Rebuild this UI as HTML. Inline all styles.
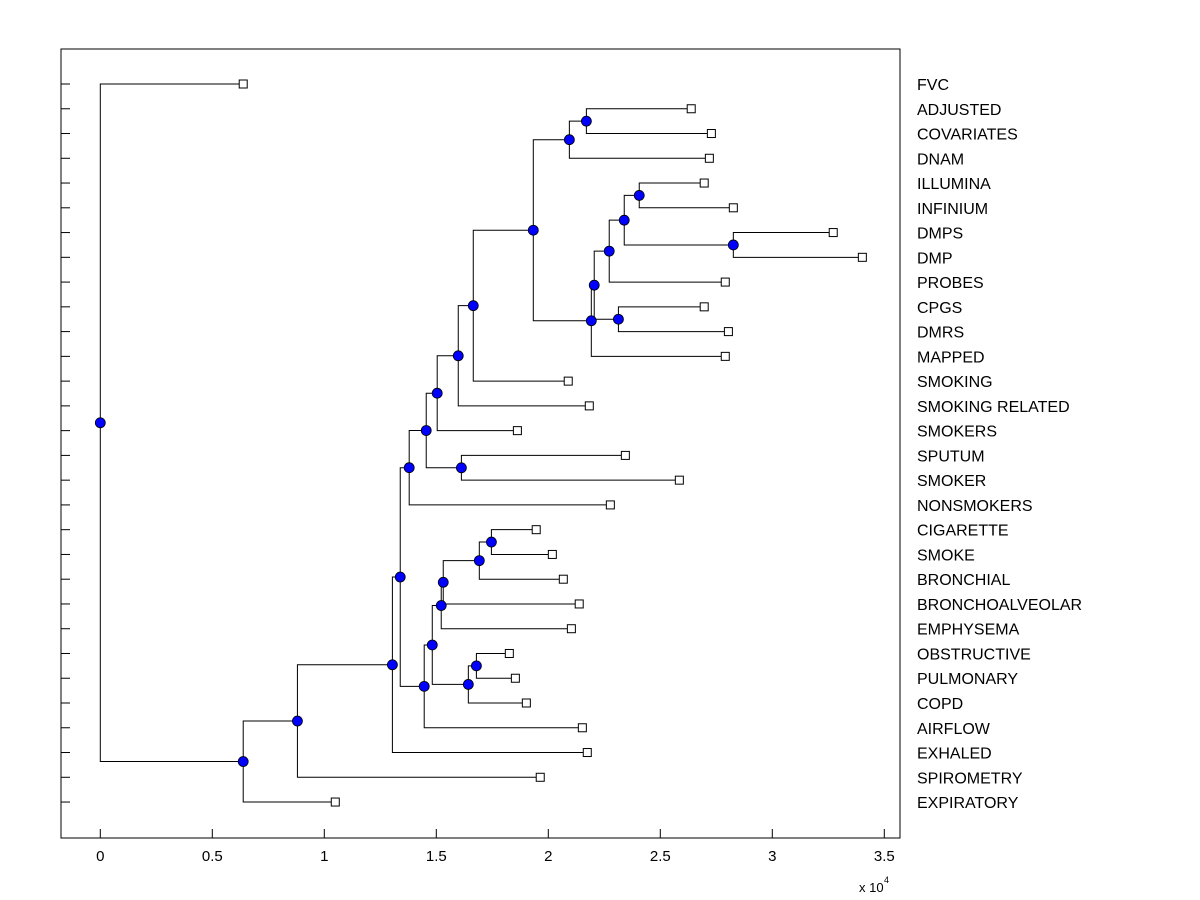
<!DOCTYPE html>
<html><head><meta charset="utf-8"><style>
html,body{margin:0;padding:0;background:#fff;}
svg{display:block;font-family:"Liberation Sans",Arial,sans-serif;}
</style></head><body>
<svg id="chart" width="1200" height="900" viewBox="0 0 1200 900">
<rect x="0" y="0" width="1200" height="900" fill="#fff"/>
<g id="marks"></g>
<g id="axes"></g>
</svg>
<script>
const leafLabels = ["FVC","ADJUSTED","COVARIATES","DNAM","ILLUMINA","INFINIUM","DMPS","DMP","PROBES","CPGS","DMRS","MAPPED","SMOKING","SMOKING RELATED","SMOKERS","SPUTUM","SMOKER","NONSMOKERS","CIGARETTE","SMOKE","BRONCHIAL","BRONCHOALVEOLAR","EMPHYSEMA","OBSTRUCTIVE","PULMONARY","COPD","AIRFLOW","EXHALED","SPIROMETRY","EXPIRATORY"];
const leafHeights = [0.638,2.638,2.728,2.719,2.696,2.826,3.272,3.402,2.79,2.696,2.804,2.79,2.089,2.183,1.862,2.344,2.585,2.277,1.946,2.018,2.067,2.138,2.103,1.826,1.853,1.902,2.152,2.174,1.964,1.049];
const mergeNames = ["O","M","T","U","S","R","Q","P","N","L","K","J","H","I","G","E","AA","Z","Y","W","AB","X","V","F","D","C","B","A","ROOT"];
const mergeLeft  = ["ADJUSTED","O","ILLUMINA","DMPS","T","S","CPGS","R","P","M","L","K","J","SPUTUM","H","G","CIGARETTE","AA","Z","Y","OBSTRUCTIVE","AB","W","V","E","D","C","B","FVC"];
const mergeRight = ["COVARIATES","DNAM","INFINIUM","DMP","U","PROBES","DMRS","Q","MAPPED","N","SMOKING","SMOKING RELATED","SMOKERS","SMOKER","I","NONSMOKERS","SMOKE","BRONCHIAL","BRONCHOALVEOLAR","EMPHYSEMA","PULMONARY","COPD","X","AIRFLOW","F","EXHALED","SPIROMETRY","EXPIRATORY","A"];
const mergeHeights = [2.17,2.094,2.406,2.826,2.339,2.272,2.313,2.205,2.192,1.933,1.665,1.598,1.504,1.612,1.455,1.379,1.746,1.692,1.531,1.522,1.679,1.643,1.482,1.446,1.339,1.304,0.88,0.638,0];
const xTicks = [0,0.5,1,1.5,2,2.5,3,3.5];
const xTickLabels = ["0","0.5","1","1.5","2","2.5","3","3.5"];

const NS="http://www.w3.org/2000/svg";
const L=61,R=900,T=49,B=838;
const xs=v=>100.3+v*224;
const ys=i=>84+i*24.76;
const marks=document.getElementById('marks'), axes=document.getElementById('axes');
function mk(tag,attrs,parent){const e=document.createElementNS(NS,tag);for(const k in attrs)e.setAttribute(k,attrs[k]);parent.appendChild(e);return e;}

const pos={};
leafLabels.forEach((n,i)=>{pos[n]={x:xs(leafHeights[i]),y:ys(i),leaf:true};});
const links=mk('g',{},marks);


const dots=mk('g',{},marks);


mergeNames.forEach((n,i)=>{
  const a=pos[mergeLeft[i]], b=pos[mergeRight[i]];
  const x=xs(mergeHeights[i]), y=(a.y+b.y)/2;
  pos[n]={x:x,y:y,leaf:false};
  const p=mk('path',{d:`M${a.x},${a.y}H${x}V${b.y}H${b.x}`,fill:'none',stroke:'#000','stroke-width':1},links);
  
  
});
leafLabels.forEach((n,i)=>{
  const p=pos[n];
  const s=mk('rect',{x:p.x-4,y:p.y-4,width:8,height:8,fill:'#fff',stroke:'#000','stroke-width':1},dots);
  
  
  const t=mk('text',{x:917,y:p.y+6,'font-size':16,fill:'#000'},axes);
  t.textContent=n;
  
  
  const tk=mk('line',{x1:L,x2:L+9,y1:p.y,y2:p.y,stroke:'#000'},axes);
  
  
});
mergeNames.forEach(n=>{
  const p=pos[n];
  const c=mk('circle',{cx:p.x,cy:p.y,r:5,fill:'#0000ff',stroke:'#000','stroke-width':0.8},dots);
  
  
});
const box=mk('path',{d:`M${L},${T}H${R}V${B}H${L}Z`,fill:'none',stroke:'#000','stroke-width':1},axes);


xTicks.forEach((v,i)=>{
  const x=xs(v);
  const tk=mk('line',{x1:x,x2:x,y1:B,y2:B-9,stroke:'#000'},axes);
  
  
  const t=mk('text',{x:x,y:861,'font-size':15,'text-anchor':'middle',fill:'#000'},axes);
  t.textContent=xTickLabels[i];
  
  
});
const ex=mk('text',{x:859,y:892,'font-size':13,fill:'#000'},axes);
ex.textContent='x 10';


const sup=mk('text',{x:884,y:883,'font-size':9,fill:'#000'},axes);
sup.textContent='4';


</script>
</body></html>
